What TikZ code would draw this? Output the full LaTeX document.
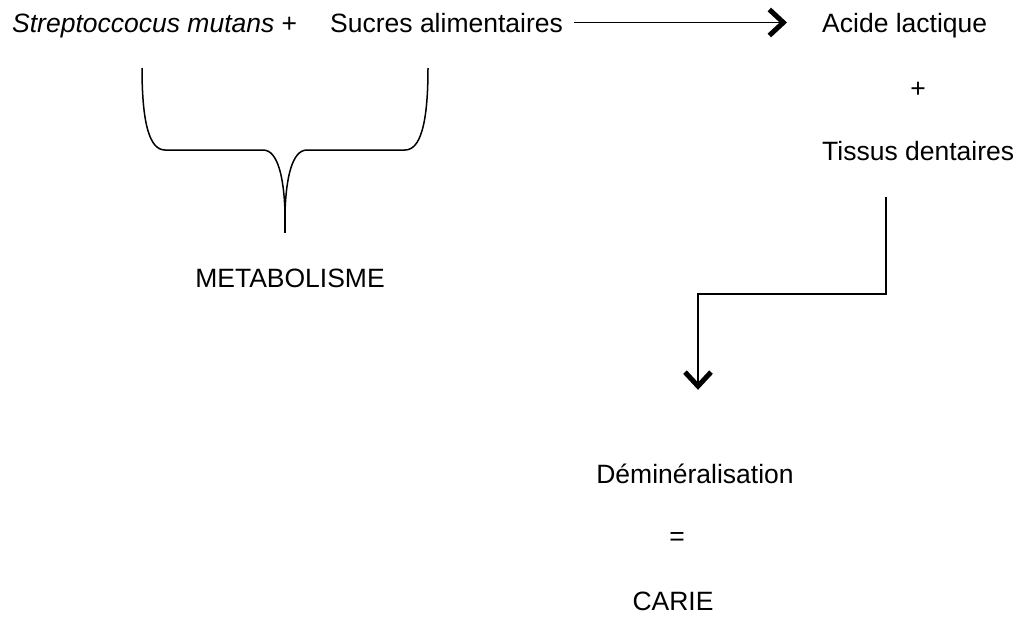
\documentclass[tikz,border=0pt]{standalone}
\usepackage{fontspec}
\setmainfont{Liberation Sans}
\usetikzlibrary{arrows.meta}
\begin{document}
\begin{tikzpicture}[x=1pt,y=-1pt,
  lbl/.style={inner sep=0pt,text height=19pt,text depth=0pt,font=\fontsize{26.5}{30}\selectfont},
  ln/.style={line width=1.5pt,line join=miter},
  arr/.style={ln,-{Straight Barb[length=14pt,width=26pt,line width=5pt]}}]
\useasboundingbox (0,0) rectangle (1025,616);
% first line
\node[lbl,anchor=base west] (s1) at (12,32) {\textit{Streptoccocus mutans} +};
\node[lbl,anchor=base west] (s2) at (330,32) {Sucres alimentaires};
\node[lbl,anchor=base west] (a1) at (822,32) {Acide lactique};
\draw[arr,shorten <=11pt,shorten >=35pt] (s2.east) -- (a1.west);
% right column
\node[lbl,anchor=base] (p2) at (918,97) {+};
\node[lbl,anchor=base west] (t) at (822,160) {Tissus dentaires};
% brace
\coordinate (bt) at (285,213);
\draw[ln] (142,68) .. controls (142,125) and (150,150) .. (165,150) -- (263,150)
  .. controls (278,150) and (284,178) .. (bt);
\draw[ln] (428,68) .. controls (428,125) and (420,150) .. (405,150) -- (307,150)
  .. controls (292,150) and (286,178) .. (bt);
\node[lbl,anchor=base] (met) at (290,287) {METABOLISME};
\draw[ln] (bt) -- ++(0,20);
% bent arrow
\coordinate (b1) at (886,294);
\coordinate (b2) at (698,294);
\node[lbl,anchor=base] (dm) at (695,483) {Déminéralisation};
\draw[arr,shorten <=37pt,shorten >=74pt] (t.south -| b1) -- (b1) -- (b2) -- (b2 |- dm.north);
\node[lbl,anchor=base] (eq) at (677,545) {=};
\node[lbl,anchor=base] (car) at (673,610) {CARIE};
\end{tikzpicture}
\end{document}
